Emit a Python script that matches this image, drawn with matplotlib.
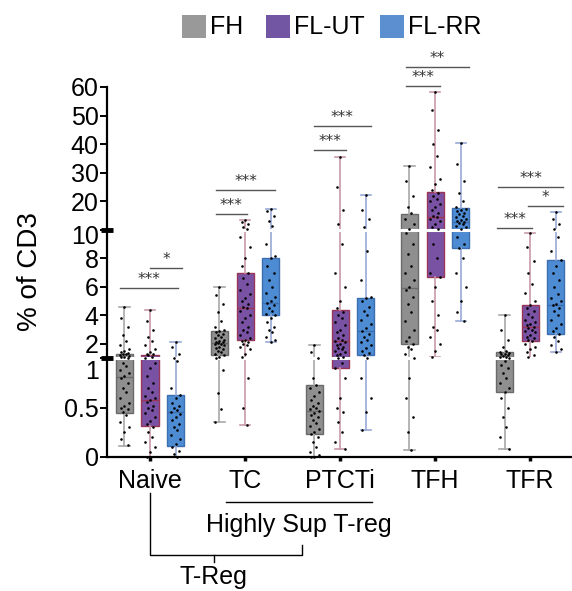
import numpy as np
import matplotlib
matplotlib.use("Agg")
import matplotlib.pyplot as plt
from matplotlib.patches import Rectangle
from matplotlib.lines import Line2D
import matplotlib.transforms as mtransforms

plt.rcParams['font.family'] = ['Liberation Sans', 'DejaVu Sans']

# ---------------- data ----------------
cells = ['Naive', 'TC', 'PTCTi', 'TFH', 'TFR']
groups = ['FH', 'FL-UT', 'FL-RR']

# box stats per cell, per group: (whislo, q1, med, q3, whishi)
stats = {
    'Naive': [(0.11, 0.44, 0.81, 1.28, 4.6), (0.0, 0.31, 0.58, 1.2, 4.4), (0.0, 0.11, 0.45, 0.63, 2.1)],
    'TC':    [(0.35, 1.2, 2.06, 2.9, 6.0), (0.32, 2.3, 4.5, 7.0, 13.5), (2.1, 4.0, 4.9, 8.0, 17.3)],
    'PTCTi': [(0.0, 0.23, 0.46, 0.73, 1.9), (0.08, 0.9, 2.2, 4.4, 35.5), (0.27, 1.2, 2.9, 5.2, 22.2)],
    'TFH':   [(0.07, 2.0, 5.9, 15.6, 32.4), (1.07, 6.7, 14.5, 23.3, 58.3), (3.6, 8.7, 12.8, 17.7, 40.4)],
    'TFR':   [(0.08, 0.66, 1.05, 1.4, 4.0), (1.0, 2.2, 3.2, 4.7, 9.8), (1.4, 2.7, 4.7, 7.9, 16.3)],
}

# individual samples
points = {
    'Naive': [
        [4.6, 3.8, 3.2, 2.6, 2.2, 1.9, 1.6, 1.5, 1.4, 1.35, 1.3, 1.25, 1.2, 1.15, 1.1, 1.05, 1.0, 0.95,
         0.92, 0.88, 0.85, 0.82, 0.8, 0.75, 0.7, 0.66, 0.6, 0.55, 0.52, 0.5, 0.48, 0.45, 0.42, 0.35,
         0.3, 0.25, 0.18, 0.12],
        [4.4, 3.6, 3.0, 2.5, 2.2, 1.9, 1.6, 1.4, 1.3, 1.25, 1.2, 1.1, 1.0, 0.95, 0.9, 0.82, 0.75, 0.7,
         0.66, 0.62, 0.6, 0.58, 0.56, 0.52, 0.5, 0.47, 0.44, 0.4, 0.36, 0.33, 0.3, 0.25, 0.2, 0.15,
         0.1, 0.05, 0.0],
        [2.1, 1.8, 1.3, 1.0, 0.97, 0.7, 0.63, 0.6, 0.55, 0.52, 0.5, 0.47, 0.45, 0.43, 0.4, 0.37, 0.33,
         0.3, 0.27, 0.22, 0.18, 0.13, 0.1, 0.06, 0.03, 0.0],
    ],
    'TC': [
        [6.0, 5.4, 4.8, 4.2, 3.6, 3.2, 3.0, 2.9, 2.8, 2.7, 2.6, 2.5, 2.4, 2.3, 2.2, 2.15, 2.1, 2.05,
         2.0, 1.95, 1.9, 1.8, 1.7, 1.6, 1.5, 1.4, 1.3, 1.2, 1.1, 1.0, 0.88, 0.65, 0.48, 0.35],
        [13.5, 12.8, 12.0, 11.2, 10.5, 9.5, 8.8, 8.0, 7.5, 7.0, 6.6, 6.2, 5.8, 5.5, 5.2, 5.0, 4.8, 4.6,
         4.5, 4.3, 4.0, 3.8, 3.5, 3.2, 3.0, 2.8, 2.6, 2.4, 2.3, 2.2, 2.1, 2.0, 1.9, 1.8, 1.6, 1.3,
         1.1, 0.8, 0.5, 0.32],
        [17.3, 16.5, 15.0, 13.0, 11.5, 9.0, 8.2, 8.0, 7.5, 7.0, 6.5, 6.0, 5.6, 5.3, 5.0, 4.9, 4.7, 4.5,
         4.3, 4.1, 4.0, 3.8, 3.5, 3.2, 3.0, 2.8, 2.5, 2.3, 2.1],
    ],
    'PTCTi': [
        [1.9, 1.4, 1.0, 0.8, 0.73, 0.7, 0.66, 0.62, 0.58, 0.55, 0.52, 0.5, 0.48, 0.46, 0.44, 0.42, 0.4,
         0.37, 0.34, 0.31, 0.28, 0.25, 0.23, 0.2, 0.15, 0.1, 0.05, 0.02, 0.0, 0.0],
        [35.5, 25, 17, 12, 9, 7, 6, 5, 4.5, 4.2, 4.0, 3.8, 3.5, 3.3, 3.0, 2.8, 2.6, 2.4, 2.3, 2.2, 2.1,
         2.0, 1.9, 1.8, 1.7, 1.6, 1.5, 1.4, 1.3, 1.2, 1.1, 1.0, 0.95, 0.9, 0.8, 0.6, 0.5, 0.45, 0.35,
         0.25, 0.15, 0.08],
        [22.2, 17, 14, 11, 8.5, 6.5, 5.3, 5.2, 5.0, 4.6, 4.3, 4.0, 3.7, 3.4, 3.1, 2.9, 2.7, 2.5, 2.3,
         2.1, 1.9, 1.7, 1.5, 1.35, 1.2, 1.0, 0.8, 0.6, 0.45, 0.27],
    ],
    'TFH': [
        [32.4, 27, 22, 18, 16, 14, 12, 10.5, 9.8, 9.0, 8.3, 7.5, 7.0, 6.5, 6.0, 5.8, 5.3, 4.8, 4.2,
         3.6, 3.0, 2.5, 2.2, 2.0, 1.8, 1.6, 1.3, 1.0, 0.8, 0.6, 0.4, 0.25, 0.07],
        [58.3, 52, 45, 40, 36, 32, 28, 26, 24, 23, 22, 21, 20, 19, 18, 17, 16, 15, 14.5, 14, 13, 12,
         11, 10.5, 9, 8, 7, 6.7, 6, 5, 4, 3.2, 3.0, 2.5, 2, 1.5, 1.07],
        [40.4, 33, 27, 23, 20, 18, 17.5, 17, 16.5, 16, 15.5, 15, 14.5, 14, 13.5, 13, 12.8, 12.5, 12,
         11.5, 11, 10.5, 9.5, 9.0, 8.7, 8, 7, 6, 5, 4.2, 3.6],
    ],
    'TFR': [
        [4.0, 3.0, 2.3, 1.8, 1.5, 1.4, 1.35, 1.3, 1.25, 1.2, 1.15, 1.1, 1.05, 1.0, 0.97, 0.93, 0.9,
         0.85, 0.8, 0.75, 0.7, 0.66, 0.6, 0.5, 0.4, 0.3, 0.2, 0.08],
        [9.8, 8.8, 7.8, 7.0, 6.2, 5.6, 5.0, 4.7, 4.5, 4.3, 4.1, 3.9, 3.7, 3.5, 3.4, 3.3, 3.2, 3.1, 3.0,
         2.9, 2.8, 2.6, 2.5, 2.4, 2.3, 2.2, 2.0, 1.8, 1.6, 1.4, 1.2, 1.05],
        [16.3, 14, 12, 10.5, 9.5, 8.5, 7.9, 7.5, 7.0, 6.5, 6.0, 5.5, 5.2, 5.0, 4.8, 4.7, 4.5, 4.3,
         4.0, 3.7, 3.4, 3.1, 2.9, 2.7, 2.5, 2.2, 1.9, 1.6, 1.4],
    ],
}

# significance bars: (x start, x end, y value, label)
sig_bars = [
    (-0.32, 0.29, 5.9, '***'), (0.0, 0.34, 7.3, '*'),
    (0.69, 1.02, 15.6, '***'), (0.69, 1.32, 24.0, '***'),
    (1.72, 2.06, 38.0, '***'), (1.72, 2.33, 46.4, '***'),
    (2.69, 3.05, 60.3, '***'), (2.69, 3.36, 67.0, '**'),
    (3.65, 4.02, 10.7, '***'), (3.98, 4.35, 18.4, '*'), (3.66, 4.35, 25.0, '***'),
]

yticks = [0, 0.5, 1, 2, 4, 6, 8, 10, 20, 30, 40, 50, 60]
ytick_labels = ['0', '0.5', '1', '2', '4', '6', '8', '10', '20', '30', '40', '50', '60']

face_colors = ['#8f8f8f', '#7a52a3', '#4d8bd3']
edge_colors = ['#6a6a6a', '#9b3558', '#3d6eb0']
whisk_colors = ['#a8a8a8', '#c79aa6', '#97a9d4']
legend_colors = ['#999999', '#7256a3', '#5b8fcf']

# ---------------- segmented y scale ----------------
SEG_V = [-10, 0, 1, 10, 60, 200]
SEG_P = [-990, 0, 99, 227, 370, 770]


def fwd(v):
    return np.interp(v, SEG_V, SEG_P)


def inv(p):
    return np.interp(p, SEG_P, SEG_V)


fig = plt.figure(figsize=(5.72, 5.91), dpi=100)
W, H = 572.0, 591.0
ax = fig.add_axes([107 / W, 1 - 457 / H, (572 - 107) / W, (457 - 87) / H])
ax.set_yscale('function', functions=(fwd, inv))
ax.set_ylim(0, 60)
ax.set_xlim(-0.453, 4.44)

offsets = [-0.27, 0.0, 0.27]
jit = [0.0, -0.035, 0.035, -0.018, 0.018, -0.05, 0.05]

for ci, cell in enumerate(cells):
    for gi in range(3):
        lo, q1, med, q3, hi = stats[cell][gi]
        pos = ci + offsets[gi]
        ax.bxp([{'med': med, 'q1': q1, 'q3': q3, 'whislo': lo, 'whishi': hi, 'fliers': []}],
               positions=[pos], widths=0.18, patch_artist=True, showfliers=False,
               boxprops=dict(facecolor=face_colors[gi], edgecolor=edge_colors[gi], linewidth=1.0),
               medianprops=dict(color=edge_colors[gi], linewidth=1.0),
               whiskerprops=dict(color=whisk_colors[gi], linewidth=1.2),
               capprops=dict(color=whisk_colors[gi], linewidth=1.2),
               capwidths=0.11, manage_ticks=False)
        vals = points[cell][gi]
        xs = [pos + jit[k % len(jit)] for k in range(len(vals))]
        ax.scatter(xs, vals, s=3.5, color='black', zorder=5, linewidths=0, clip_on=False)

# axis break gaps
for b in (1, 10):
    ax.axhline(b, xmin=0.005, xmax=1, color='white', lw=2.2, zorder=4)

# significance bars
for x1, x2, y, lab in sig_bars:
    ax.plot([x1, x2], [y, y], color='#555555', lw=1.0, clip_on=False, zorder=6)
    ax.annotate(lab, xy=((x1 + x2) / 2, y), xytext=(0, 1), textcoords='offset points',
                ha='center', va='bottom', fontsize=11, color='#333333',
                family=['DejaVu Sans'], annotation_clip=False)

# axes styling
for s in ('top', 'right'):
    ax.spines[s].set_visible(False)
ax.spines['left'].set_linewidth(1.6)
ax.spines['bottom'].set_linewidth(1.6)
ax.set_yticks(yticks)
ax.set_yticklabels(ytick_labels)
ax.yaxis.set_minor_locator(matplotlib.ticker.NullLocator())
ax.tick_params(axis='y', length=5, width=1.4, pad=1, labelsize=18)
ax.set_xticks(range(len(cells)))
ax.set_xticklabels(cells)
ax.tick_params(axis='x', length=3, width=2.5, pad=6, labelsize=18)
ax.set_ylabel('% of CD3', fontsize=20, labelpad=15)

# labels at the breaks sit a little below their marks
for lab in ax.get_yticklabels():
    shift = {'1': -8, '10': -3}.get(lab.get_text(), 0)
    if shift:
        lab.set_transform(lab.get_transform() +
                          mtransforms.ScaledTranslation(0, shift / 72, fig.dpi_scale_trans))

# thick break marks on the y axis
bt = mtransforms.blended_transform_factory(ax.transAxes, ax.transData)
for b in (1, 10):
    ax.plot([-0.012, 0.012], [b, b], color='black', lw=3.5, transform=bt,
            clip_on=False, solid_capstyle='butt', zorder=7)

# group brackets under the x axis
bf = mtransforms.blended_transform_factory(ax.transData, fig.transFigure)


def fy(py):
    return 1 - py / H


fig.add_artist(Line2D([0.8, 2.34], [fy(502), fy(502)], color='black', lw=1.0, transform=bf))
fig.text(1.57, fy(525), 'Highly Sup T-reg', transform=bf, ha='center', va='center', fontsize=18)
fig.add_artist(Line2D([0.0, 0.0, 1.6, 1.6], [fy(493), fy(555), fy(555), fy(545)],
                      color='black', lw=1.0, transform=bf))
fig.add_artist(Line2D([0.67, 0.67], [fy(555), fy(562)], color='black', lw=1.0, transform=bf))
fig.text(0.67, fy(577), 'T-Reg', transform=bf, ha='center', va='center', fontsize=18)

# legend drawn at the top
leg_x = [182, 266, 380]
for gi, g in enumerate(groups):
    fig.add_artist(Rectangle((leg_x[gi] / W, fy(38)), 24 / W, 23 / H, transform=fig.transFigure,
                             facecolor=legend_colors[gi], edgecolor='none'))
    fig.text((leg_x[gi] + 28) / W, fy(27), g, ha='left', va='center', fontsize=18)

fig.savefig('out.png', dpi=100)
